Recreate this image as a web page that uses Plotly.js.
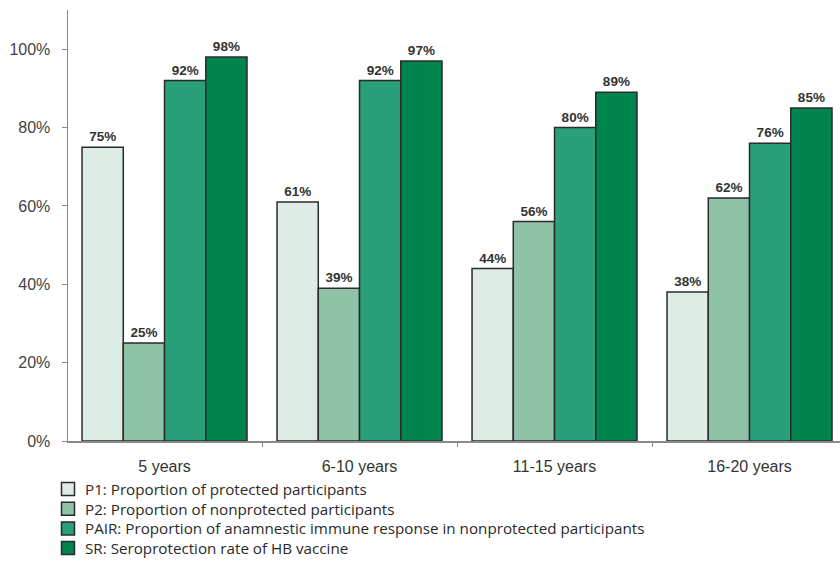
<!DOCTYPE html>
<html>
<head>
<meta charset="utf-8">
<script src="https://cdn.plot.ly/plotly-3.0.1.min.js"></script>
<style>
  html, body { margin: 0; padding: 0; background: #fff; }
  #chart { width: 840px; height: 561px; }
</style>
</head>
<body>
<div id="chart"></div>
<script>
// Age groups since vaccination
const ageGroups = ['5 years', '6-10 years', '11-15 years', '16-20 years'];

// Percentages per series
const p1Values = [75, 61, 44, 38];
const p2Values = [25, 39, 56, 62];
const pairValues = [92, 92, 80, 76];
const srValues = [98, 97, 89, 85];

const seriesNames = [
  'P1: Proportion of protected participants',
  'P2: Proportion of nonprotected participants',
  'PAIR: Proportion of anamnestic immune response in nonprotected participants',
  'SR: Seroprotection rate of HB vaccine'
];
const seriesColors = ['#ddede5', '#8ec3a8', '#29a07a', '#00844e'];
const seriesValues = [p1Values, p2Values, pairValues, srValues];

const W = 840, H = 561;
const M = { l: 68, r: 0, t: 10, b: 120 };
const plotW = W - M.l - M.r, plotH = H - M.t - M.b;
// pixel -> paper helpers for the hand-drawn key below the chart
const px = x => (x - M.l) / plotW;
const py = y => (H - M.b - y) / plotH;

const traces = seriesValues.map((vals, i) => ({
  type: 'bar',
  name: seriesNames[i],
  x: ageGroups,
  y: vals,
  text: vals.map(v => v + '%'),
  texttemplate: '%{text}',
  textposition: 'outside',
  constraintext: 'none',
  cliponaxis: false,
  marker: { color: seriesColors[i], line: { color: '#2b2b2b', width: 1.5 } },
  textfont: { family: 'Liberation Sans, Arial, sans-serif', size: 13.5, color: '#333', weight: 'bold' },
  showlegend: false,
  hoverinfo: 'skip'
}));

// Key: swatch + label per series
const keyRowsY = [489, 508.7, 528.4, 548.1];
const shapes = [];
const annotations = [];
seriesNames.forEach((name, i) => {
  const cy = keyRowsY[i];
  shapes.push({
    type: 'rect', xref: 'paper', yref: 'paper',
    x0: px(61.5), x1: px(74.5), y0: py(cy + 6.5), y1: py(cy - 6.5),
    fillcolor: seriesColors[i], line: { color: '#2b2b2b', width: 1.5 }
  });
  annotations.push({
    xref: 'paper', yref: 'paper', x: px(84), y: py(cy),
    xanchor: 'left', yanchor: 'middle', showarrow: false,
    borderpad: 0,
    text: name,
    font: { family: 'Open Sans, sans-serif', size: 15.2, color: '#2a2a2a' }
  });
});

const layout = {
  width: W,
  height: H,
  margin: { l: M.l, r: M.r, t: M.t, b: M.b, autoexpand: false },
  paper_bgcolor: '#fff',
  plot_bgcolor: '#fff',
  barmode: 'group',
  bargap: 0.154,
  bargroupgap: 0,
  showlegend: false,
  font: { family: 'Liberation Sans, Arial, sans-serif', color: '#444' },
  xaxis: {
    type: 'category',
    range: [-0.495, 3.464],
    showline: true,
    linecolor: '#8a8a8a',
    linewidth: 1.5,
    ticks: 'outside',
    tickson: 'boundaries',
    ticklen: 4,
    tickcolor: '#8a8a8a',
    tickangle: 0,
    ticklabelstandoff: 10,
    automargin: false,
    tickfont: { size: 16, color: '#333' },
    showgrid: false,
    zeroline: false
  },
  yaxis: {
    range: [0, 110],
    tickvals: [0, 20, 40, 60, 80, 100],
    ticktext: ['0%', '20%', '40%', '60%', '80%', '100%'],
    showline: true,
    linecolor: '#8a8a8a',
    linewidth: 1.5,
    ticks: 'outside',
    ticklen: 5,
    tickcolor: '#8a8a8a',
    ticklabelstandoff: 8,
    automargin: false,
    tickfont: { size: 16, color: '#444' },
    showgrid: false,
    zeroline: false
  },
  shapes: shapes,
  annotations: annotations
};

Plotly.newPlot('chart', traces, layout, { displayModeBar: false, staticPlot: true });
</script>
</body>
</html>
